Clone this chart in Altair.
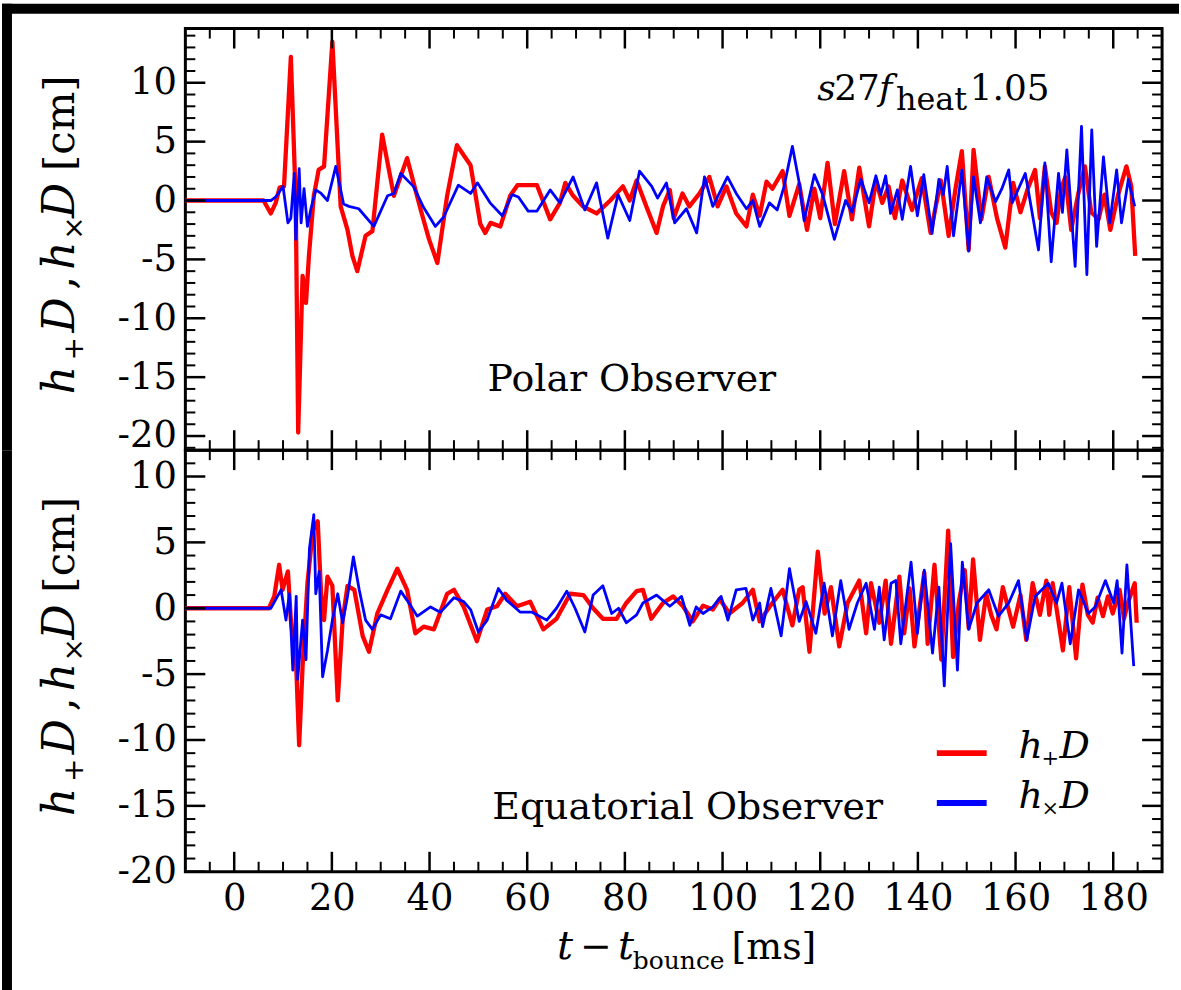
import altair as alt
import pandas as pd

# ------------------------------------------------------------------
# Data (t in ms, strain*distance in cm)
# ------------------------------------------------------------------
# Polar observer, h_plus D (red)
TOP_PLUS_T = [-10, 6, 7.5, 8.5, 9.3, 10.2, 11.6, 12.6, 13.1, 14.0,
              14.7, 15.3, 16.3, 17.3, 18.4, 20.1, 21.8, 23.2, 24.2, 25.2,
              26.9, 28.3, 30.3, 32.7, 35.4, 38.2, 39.9, 41.6, 43.6, 45.6,
              48.4, 50.4, 51.4, 52.5, 54.5, 56.5, 58.0, 62.0, 64.7, 66.7,
              67.8, 69.4, 71.4, 74.2, 77.0, 79.6, 81.0, 82.4, 84.4, 86.5,
              87.8, 89.2, 90.0, 91.8, 93.2, 95.3, 97.3, 99.0, 100.8, 102.8,
              104.9, 106.2, 107.6, 109.0, 110.2, 112.3, 113.7, 115.7, 117.3, 118.8,
              120.0, 121.5, 123.0, 124.9, 126.5, 128.0, 130.0, 131.4, 132.7, 134.0,
              135.3, 136.8, 138.8, 140.8, 142.6, 144.7, 146.3, 147.7, 149.0, 150.4,
              151.4, 153.0, 154.5, 156.2, 157.9, 159.5, 161.0, 162.5, 164.0, 165.0,
              166.0, 167.3, 168.4, 169.3, 170.2, 171.4, 172.8, 174.2, 175.5, 177.0,
              178.2, 179.4, 181.0, 182.7, 183.7, 184.5]
TOP_PLUS_V = [0, 0, -1.1, -0.2, 1.1, 1.2, 12.2, 0.0, -19.7, -6.4,
              -8.7, -4.7, 0.4, 2.6, 2.9, 13.5, -0.5, -2.5, -4.7, -6.0,
              -3.0, -2.6, 5.6, 0.4, 3.6, -0.8, -3.3, -5.3, 0.4, 4.7,
              3.0, -2.0, -2.75, -1.9, -2.2, 0.4, 1.3, 1.3, -1.6, -0.2,
              1.5, 0.4, -0.5, -1.1, 0.0, 1.2, 0.0, 1.7, -0.5, -2.75,
              -0.5, 0.9, -1.5, 0.6, -0.5, 0.6, 2.0, -0.5, 1.2, -1.1,
              -2.2, 0.5, -1.3, 1.6, 1.0, 2.5, -1.3, 1.4, -2.5, 1.0,
              -1.5, 3.2, -2.0, 2.5, -1.6, 2.8, -2.2, 1.7, -0.2, 1.2,
              -1.5, 1.7, -0.8, 1.9, -2.75, 1.7, -3.0, 1.0, 4.2, -4.2,
              4.3, -1.6, 2.0, -1.5, -4.0, 1.5, -1.0, 1.0, 2.6, -1.5,
              2.9, -1.0, -1.9, 1.0, 2.0, -2.5, 0.5, 2.9, -1.0, -1.6,
              0.5, -2.5, 0.5, 2.9, 1.2, -4.7]

# Polar observer, h_cross D (blue)
TOP_CROSS_T = [-10, 7.5, 8.5, 10.0, 11.0, 11.6, 12.3, 12.6, 13.3, 13.7,
               14.3, 15.0, 15.7, 16.7, 17.8, 19.1, 20.8, 22.4, 23.5, 25.5,
               28.6, 31.4, 32.7, 34.1, 36.7, 38.8, 41.2, 42.9, 45.9, 48.4,
               49.8, 52.4, 54.9, 56.9, 58.2, 60.2, 62.0, 64.7, 66.7, 69.4,
               71.8, 74.2, 76.5, 78.6, 81.0, 83.0, 85.5, 86.7, 88.5, 90.2,
               92.6, 94.7, 96.3, 98.0, 101.0, 102.8, 104.9, 106.2, 107.6, 109.6,
               111.2, 112.6, 114.3, 115.7, 116.7, 118.8, 120.5, 122.9, 125.2, 126.5,
               128.3, 130.0, 131.4, 132.4, 133.4, 134.4, 135.8, 136.8, 138.5, 139.9,
               141.2, 142.9, 144.3, 145.2, 146.0, 147.3, 149.0, 150.4, 151.4, 152.8,
               154.1, 155.9, 157.2, 158.6, 159.3, 160.6, 162.0, 163.3, 164.7, 166.0,
               167.3, 168.8, 169.6, 170.5, 172.2, 173.5, 174.6, 175.6, 176.6, 178.0,
               179.3, 180.7, 181.7, 183.1, 184.4]
TOP_CROSS_V = [0, 0, 0.3, 1.2, -1.9, -1.5, 2.3, -3.3, 2.7, -1.9,
               1.0, -2.2, -0.7, 0.9, 0.6, 0.0, 2.9, -0.3, -0.5, -0.7,
               -2.2, 0.4, 0.6, 2.3, 1.2, -0.6, -2.2, -1.4, 1.3, 0.6,
               1.5, -0.2, -1.3, 0.5, 0.3, -0.9, -0.9, 0.9, -0.2, 2.0,
               -0.8, 1.5, -3.2, 0.5, -1.7, 2.5, 1.2, 0.2, 1.5, -1.9,
               -0.7, -2.75, 2.0, -0.5, 2.0, 0.6, -0.7, 0.0, -2.2, -0.2,
               -0.8, 1.2, 4.6, 1.5, -1.7, 2.2, 0.5, -3.3, 0.0, -1.0,
               1.8, -0.2, 2.1, 0.5, 2.1, -1.1, 0.9, -1.6, 2.9, -1.3,
               2.2, -2.8, 1.8, 0.5, 2.9, -3.0, 2.6, -4.3, 2.0, -1.9,
               2.0, -0.1, 1.0, 2.6, -0.2, 1.0, 2.3, -0.8, -4.2, 3.2,
               -5.2, 2.3, -1.0, 4.3, -5.6, 6.3, -6.3, 6.0, -3.9, 3.7,
               -1.9, 2.6, -1.9, 1.8, -0.5]

# Equatorial observer, h_plus D (red)
BOT_PLUS_T = [-10, 7.1, 8.2, 9.2, 9.9, 11.0, 11.6, 12.7, 13.3, 14.0,
              15.0, 16.1, 17.1, 17.8, 18.4, 19.1, 20.1, 21.2, 22.2, 23.2,
              24.6, 26.3, 27.6, 29.3, 31.4, 33.4, 35.4, 37.1, 38.8, 40.9,
              43.6, 45.0, 47.0, 49.7, 51.8, 53.8, 55.5, 57.9, 60.6, 63.3,
              66.0, 68.8, 71.5, 73.5, 75.5, 78.3, 80.3, 82.4, 83.7, 85.4,
              87.8, 89.9, 91.9, 93.9, 96.0, 98.0, 99.4, 101.4, 104.1, 106.2,
              107.6, 109.6, 112.3, 114.3, 115.7, 116.4, 117.8, 119.5, 120.9, 122.2,
              123.9, 125.6, 128.0, 129.4, 130.4, 132.1, 133.4, 134.5, 136.2, 137.2,
              138.3, 139.3, 141.3, 142.0, 143.4, 144.8, 146.2, 147.2, 148.4, 149.6,
              150.4, 151.3, 152.7, 154.0, 155.0, 156.1, 157.4, 158.5, 159.5, 161.0,
              162.2, 163.5, 165.0, 166.3, 166.9, 167.6, 169.7, 171.0, 172.4, 173.7,
              174.8, 175.8, 176.8, 177.9, 178.9, 179.9, 181.3, 182.2, 183.0, 184.4,
              184.8]
BOT_PLUS_V = [0, 0, 0.9, 3.3, 1.4, 2.8, -0.9, -4.4, -10.4, -4.4,
              1.9, 5.9, 6.6, 1.1, -0.9, 2.4, 1.7, -7.0, -0.9, 1.7,
              1.4, -2.1, -3.3, -0.4, 1.4, 3.0, 1.4, -1.9, -1.4, -1.6,
              1.1, 1.4, 0.1, -2.5, -0.1, 0.15, 1.1, 0.15, 0.5, -1.6,
              -0.8, 1.1, 1.0, 0.0, -0.8, -0.8, 0.4, 1.3, 1.4, -0.8,
              0.4, 0.9, 0.15, -1.0, 0.2, -0.1, 0.7, -0.4, 0.4, 1.4,
              -1.0, 0.1, 1.4, -1.3, 1.4, 1.6, -3.3, 4.3, -0.4, 1.6,
              -2.9, 0.4, 2.1, -1.9, 1.9, -1.1, 2.1, -2.7, 2.4, -1.9,
              1.5, -2.9, 2.7, -2.7, 3.3, -3.9, 5.9, -3.7, 0.5, 2.9,
              -1.5, 3.7, -2.4, 1.1, -0.5, -1.6, 1.6, 0.0, -1.4, 1.0,
              -2.4, 1.9, -0.5, 2.1, -0.5, 1.9, -3.2, 1.6, -3.8, 1.8,
              -0.5, -1.1, 0.8, -0.6, 0.9, -0.4, 1.4, -0.8, 0.4, 1.9,
              -1.1]

# Equatorial observer, h_cross D (blue)
BOT_CROSS_T = [-10, 7.5, 9.6, 10.6, 11.3, 12.0, 12.7, 13.0, 14.0, 14.7,
               15.4, 16.3, 16.7, 17.4, 18.1, 19.1, 20.1, 21.2, 22.2, 23.2,
               24.4, 25.6, 26.9, 28.3, 30.0, 32.0, 34.1, 35.4, 37.5, 40.2,
               42.2, 45.0, 47.0, 48.4, 50.0, 51.8, 54.1, 55.8, 58.6, 61.0,
               64.0, 66.0, 68.1, 69.8, 71.8, 73.5, 75.5, 77.3, 78.7, 80.3,
               82.4, 83.7, 86.5, 89.2, 91.6, 93.3, 94.6, 96.0, 98.0, 99.7,
               101.1, 102.8, 104.8, 106.2, 107.6, 108.2, 109.9, 112.0, 113.7, 115.7,
               117.1, 119.1, 120.8, 122.5, 124.2, 125.9, 127.6, 129.4, 131.1, 132.1,
               133.1, 134.5, 135.5, 136.5, 138.6, 139.9, 141.3, 143.0, 144.3, 145.4,
               146.7, 148.1, 149.1, 150.4, 152.1, 154.5, 156.5, 158.6, 160.6, 162.3,
               164.0, 166.7, 168.4, 169.5, 171.2, 172.9, 174.9, 176.3, 178.4, 180.1,
               180.8, 181.8, 182.8, 184.2]
BOT_CROSS_V = [0, 0, 1.4, -0.9, 1.1, -4.7, 0.9, -5.4, -0.9, -3.9,
               4.5, 7.1, 1.1, 2.8, -5.2, -3.2, -0.9, 1.1, -1.1, 0.9,
               3.9, 1.4, -0.9, -1.6, -0.5, -0.8, 1.3, 0.6, -0.6, 0.1,
               -0.3, 0.8, 0.5, -0.1, -1.8, -0.9, 1.5, 0.6, -0.3, -0.3,
               -0.9, 0.0, 1.3, 0.0, -1.8, 1.0, 1.7, -0.4, 0.0, -1.1,
               -0.5, 0.4, 1.0, 0.15, 0.9, -1.3, 0.1, -0.4, 0.1, 0.9,
               -0.9, 1.4, 1.5, -0.9, 0.4, -1.4, 1.5, -2.1, 3.0, -1.0,
               0.5, -1.9, 1.9, -2.1, 2.1, -1.6, 0.4, 1.9, -1.6, 1.6,
               -2.4, 1.9, 2.1, -2.7, 3.5, -1.9, 2.9, -3.4, 1.6, -5.9,
               4.9, -4.7, 3.5, -1.6, 0.4, 1.4, -0.6, 0.4, 2.1, -2.4,
               0.9, 1.9, 0.4, 1.9, -2.7, 1.4, -0.4, 0.1, 2.1, 0.4,
               2.1, -3.4, 3.3, -4.4]

# Axis tick values / labels
X_LABELS = [0, 20, 40, 60, 80, 100, 120, 140, 160, 180]
X_MINOR = [-5, 5, 10, 15, 25, 30, 35, 45, 50, 55, 65, 70, 75, 85, 90, 95,
           105, 110, 115, 125, 130, 135, 145, 150, 155, 165, 170, 175, 185]
Y_LABELS = [-20, -15, -10, -5, 0, 5, 10]
TOP_Y_MINOR = [v for v in range(-21, 15) if v % 5 != 0]
BOT_Y_MINOR = [v for v in range(-20, 12) if v % 5 != 0]

X_DOMAIN = [-10, 190]
TOP_Y_DOMAIN = [-21.2, 14.6]
BOT_Y_DOMAIN = [-20, 12]

RED = "#ff0000"
BLUE = "#0000ff"
FONT = "DejaVu Serif"

W, H = 980, 423
MAJ, MIN = 20, 10

dummy = pd.DataFrame({"k": [0]})


def txt(s, x, y, size=38, style="normal", align="left", baseline="alphabetic", angle=0):
    return alt.Chart(dummy).mark_text(
        text=s, font=FONT, fontSize=size, fontStyle=style, align=align,
        baseline=baseline, angle=angle, color="black"
    ).encode(x=alt.value(x), y=alt.value(y))


def black_rect(x1, x2, y1, y2):
    return alt.Chart(dummy).mark_rect(color="black").encode(
        x=alt.value(x1), x2=alt.value(x2), y=alt.value(y1), y2=alt.value(y2)
    )


def panel(plus_t, plus_v, cross_t, cross_v, ydom, yminor, show_x_labels):
    xs = alt.Scale(domain=X_DOMAIN, nice=False, zero=False)
    ys = alt.Scale(domain=ydom, nice=False, zero=False)
    yaxis = alt.Axis(values=Y_LABELS, ticks=False, domain=False, grid=False,
                     labelFont=FONT, labelFontSize=37, labelColor="black",
                     labelPadding=9, labelExpr="'' + datum.value", title=None,
                     labelFlush=False, labelOverlap=False)
    if show_x_labels:
        xaxis = alt.Axis(values=X_LABELS, ticks=False, domain=False, grid=False,
                         labelFont=FONT, labelFontSize=37, labelColor="black",
                         labelPadding=9, title=None, labelFlush=False,
                         labelOverlap=False)
    else:
        xaxis = None

    dp = pd.DataFrame({"t": plus_t, "v": plus_v})
    dc = pd.DataFrame({"t": cross_t, "v": cross_v})
    red = alt.Chart(dp).mark_line(color=RED, strokeWidth=4.3, strokeJoin="round").encode(
        x=alt.X("t:Q", scale=xs, axis=xaxis), y=alt.Y("v:Q", scale=ys, axis=yaxis))
    blue = alt.Chart(dc).mark_line(color=BLUE, strokeWidth=2.8, strokeJoin="round").encode(
        x=alt.X("t:Q", scale=xs, axis=xaxis), y=alt.Y("v:Q", scale=ys, axis=yaxis))

    layers = [red, blue]

    def xt(vals, length, sw):
        base = alt.Chart(pd.DataFrame({"t": vals})).mark_rule(color="black", strokeWidth=sw)
        enc = alt.X("t:Q", scale=xs, axis=xaxis)
        return [base.encode(x=enc, y=alt.value(0), y2=alt.value(length)),
                base.encode(x=enc, y=alt.value(H), y2=alt.value(H - length))]

    def yt(vals, length, sw):
        base = alt.Chart(pd.DataFrame({"v": vals})).mark_rule(color="black", strokeWidth=sw)
        enc = alt.Y("v:Q", scale=ys, axis=yaxis)
        return [base.encode(y=enc, x=alt.value(0), x2=alt.value(length)),
                base.encode(y=enc, x=alt.value(W), x2=alt.value(W - length))]

    layers += xt(X_LABELS, MAJ, 2.5) + xt(X_MINOR, MIN, 2)
    layers += yt(Y_LABELS, MAJ, 2.5) + yt(yminor, MIN, 2)

    # y-axis title: h_+ D, h_x D [cm]  (rotated, composed of pieces)
    bx = -112
    layers += [
        txt("h", bx, 367, 44, "italic", angle=270),
        txt("+", bx + 9, 333, 28, angle=270),
        txt("D", bx, 305, 44, "italic", angle=270),
        txt(",", bx, 262, 44, angle=270),
        txt("h", bx, 242, 44, "italic", angle=270),
        txt("\u00d7", bx + 9, 212, 28, angle=270),
        txt("D", bx, 190, 44, "italic", angle=270),
        txt("[cm]", bx, 143, 42, angle=270),
    ]
    return layers


# ---------------- top panel ----------------
top_layers = panel(TOP_PLUS_T, TOP_PLUS_V, TOP_CROSS_T, TOP_CROSS_V,
                   TOP_Y_DOMAIN, TOP_Y_MINOR, False)
top_layers += [
    black_rect(-184, W + 17, -25, -15),
    black_rect(-184, -174, -25, H),
    txt("Polar Observer", 448, 364, 38, align="center"),
    txt("s", 634, 72, 36, "italic"),
    txt("27", 651, 72, 36),
    txt("f", 696, 72, 36, "italic"),
    txt("heat", 713, 82, 32),
    txt("1.05", 787, 72, 36),
]
top = alt.layer(*top_layers).properties(width=W, height=H)

# ---------------- bottom panel ----------------
bot_layers = panel(BOT_PLUS_T, BOT_PLUS_V, BOT_CROSS_T, BOT_CROSS_V,
                   BOT_Y_DOMAIN, BOT_Y_MINOR, True)
bot_layers += [
    black_rect(-184, -174, 0, 542),
    txt("Equatorial Observer", 504, 370, 38, align="center"),
    # legend
    alt.Chart(dummy).mark_rule(color=RED, strokeWidth=6).encode(
        x=alt.value(754), x2=alt.value(804), y=alt.value(304)),
    alt.Chart(dummy).mark_rule(color=BLUE, strokeWidth=6).encode(
        x=alt.value(754), x2=alt.value(804), y=alt.value(354)),
    txt("h", 836, 309, 38, "italic"),
    txt("+", 859, 316, 21),
    txt("D", 877, 309, 38, "italic"),
    txt("h", 836, 359, 38, "italic"),
    txt("\u00d7", 859, 366, 21),
    txt("D", 877, 359, 38, "italic"),
    # x-axis title: t - t_bounce [ms]
    txt("t", 373, 511, 40, "italic"),
    txt("\u2212", 396, 511, 38),
    txt("t", 434, 511, 40, "italic"),
    txt("bounce", 449, 521, 25),
    txt("[ms]", 548, 511, 38),
]
bottom = alt.layer(*bot_layers).properties(width=W, height=H)

chart = alt.vconcat(top, bottom, spacing=0, bounds="flush").properties(
    padding=0, background="white"
).configure_view(stroke="black", strokeWidth=3)

chart.save("out.html", embed_options={"renderer": "svg", "actions": False})
